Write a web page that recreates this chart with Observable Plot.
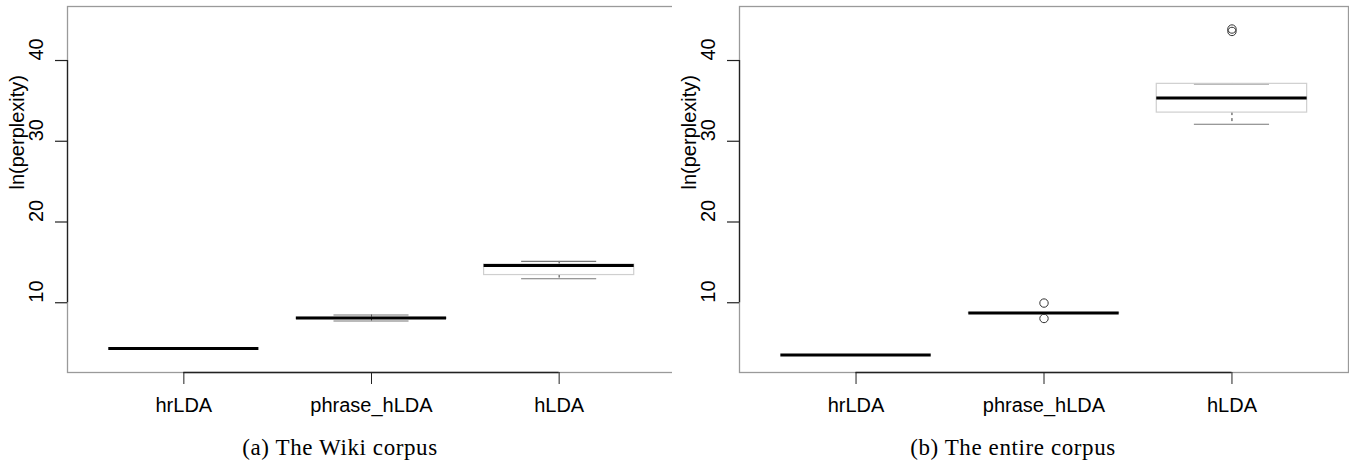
<!DOCTYPE html>
<html>
<head>
<meta charset="utf-8">
<script src="https://cdn.jsdelivr.net/npm/d3@7"></script>
<script src="https://cdn.jsdelivr.net/npm/@observablehq/plot@0.6"></script>
<style>
  html, body { margin: 0; padding: 0; background: #fff; }
  #wrap { position: relative; width: 1349px; height: 463px; overflow: hidden; }
  .panel { position: absolute; top: 0; }
  .cap { position: absolute; top: 436px; width: 400px; text-align: center;
         font-family: "Liberation Serif", "Times New Roman", serif; font-size: 23px;
         letter-spacing: 0.6px; color: #000; line-height: 24px; }
</style>
</head>
<body>
<div id="wrap">
  <div class="panel" id="left" style="left:0px"></div>
  <div class="panel" id="right" style="left:672px"></div>
  <div class="cap" style="left:140px">(a) The Wiki corpus</div>
  <div class="cap" style="left:813px">(b) The entire corpus</div>
</div>
<script>
// ---- data ----
const categories = ["hrLDA", "phrase_hLDA", "hLDA"];
const yTicks = [10, 20, 30, 40];
const yLabel = "ln(perplexity)";

// (a) The Wiki corpus
const wikiLo  = [4.33, 7.73, 12.98];
const wikiQ1  = [4.33, 7.98, 13.43];
const wikiMed = [4.33, 8.10, 14.62];
const wikiQ3  = [4.33, 8.16, 14.74];
const wikiHi  = [4.33, 8.48, 15.12];
const wikiOutCat = [];
const wikiOutVal = [];

// (b) The entire corpus
const entireLo  = [3.52, 8.70, 32.10];
const entireQ1  = [3.52, 8.71, 33.55];
const entireMed = [3.52, 8.72, 35.37];
const entireQ3  = [3.52, 8.74, 37.11];
const entireHi  = [3.52, 8.76, 37.11];
const entireOutCat = ["phrase_hLDA", "phrase_hLDA", "hLDA", "hLDA"];
const entireOutVal = [9.96, 8.05, 43.9, 43.6];

// ---- scales (R-style 4% extension of x range) ----
const n = categories.length;
const xDomain = [0.5 - 0.04 * n, n + 0.5 + 0.04 * n];
const yDomain = [1.36, 46.69];

function panel(lo, q1, med, q3, hi, outCat, outVal, width, marginRight) {
  const rows = categories.map((c, i) => ({pos: i + 1, lo: lo[i], q1: q1[i], med: med[i], q3: q3[i], hi: hi[i]}));
  const outs = outCat.map((c, i) => ({pos: categories.indexOf(c) + 1, v: outVal[i]}));
  const bw = 0.4, sw = 0.2;
  return Plot.plot({
    width, height: 420,
    marginLeft: 67, marginRight, marginTop: 6, marginBottom: 48,
    style: {fontFamily: "'Liberation Sans', Arial, sans-serif", fontSize: "20px", background: "#fff", overflow: "visible"},
    x: {type: "linear", domain: xDomain, label: null},
    y: {domain: yDomain, label: null},
    marks: [
      Plot.frame({stroke: "#9a9a9a", strokeWidth: 1.3}),
      // axes
      Plot.ruleX([xDomain[0]], {y1: yTicks[0], y2: yTicks[yTicks.length - 1], stroke: "#222", strokeWidth: 1.3}),
      Plot.ruleY([yDomain[0]], {x1: 1, x2: n, stroke: "#222", strokeWidth: 1.3}),
      Plot.axisY(yTicks, {tickSize: 12, tickFormat: () => "", label: null, stroke: "#222", strokeWidth: 1.2}),
      Plot.text(yTicks, {y: d => d, text: d => String(d), frameAnchor: "left", dx: -31, rotate: -90, fill: "#000"}),
      Plot.text([yLabel], {frameAnchor: "left", dx: -50, rotate: -90, fill: "#000"}),
      Plot.axisX(categories.map((c, i) => i + 1), {tickSize: 12, tickPadding: 13, label: null, tickFormat: d => categories[d - 1], stroke: "#222", fill: "#000"}),
      // whiskers
      Plot.ruleX(rows, {x: "pos", y1: "q3", y2: "hi", stroke: "#333", strokeWidth: 1, strokeDasharray: "3,3"}),
      Plot.ruleX(rows, {x: "pos", y1: "q1", y2: "lo", stroke: "#333", strokeWidth: 1, strokeDasharray: "3,3"}),
      // staples
      Plot.ruleY(rows, {y: "lo", x1: d => d.pos - sw, x2: d => d.pos + sw, stroke: "#777", strokeWidth: 1.1}),
      Plot.ruleY(rows, {y: "hi", x1: d => d.pos - sw, x2: d => d.pos + sw, stroke: "#777", strokeWidth: 1.1}),
      // box
      Plot.rect(rows, {x1: d => d.pos - bw, x2: d => d.pos + bw, y1: "q1", y2: "q3", fill: "none", stroke: "#cfcfcf", strokeWidth: 1.2}),
      // median
      Plot.ruleY(rows, {y: "med", x1: d => d.pos - bw, x2: d => d.pos + bw, stroke: "#000", strokeWidth: 3}),
      // outliers
      Plot.dot(outs, {x: "pos", y: "v", r: 4.2, stroke: "#333", strokeWidth: 1, fill: "none"})
    ]
  });
}

document.getElementById("left").append(panel(wikiLo, wikiQ1, wikiMed, wikiQ3, wikiHi, wikiOutCat, wikiOutVal, 680, 5));
document.getElementById("right").append(panel(entireLo, entireQ1, entireMed, entireQ3, entireHi, entireOutCat, entireOutVal, 677, 1));
</script>
</body>
</html>
